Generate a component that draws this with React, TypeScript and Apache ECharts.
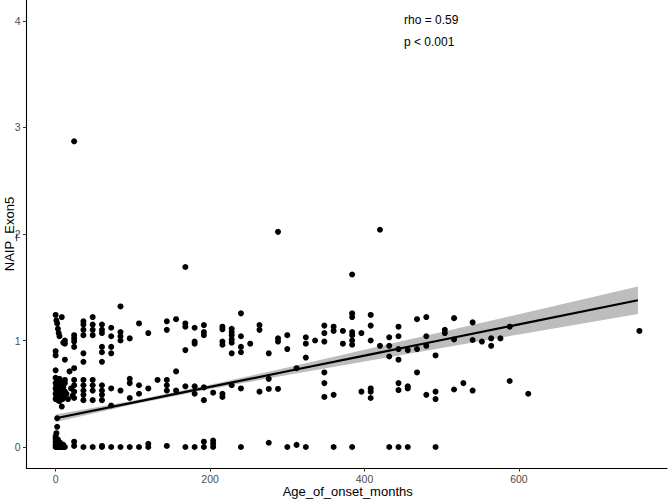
import React, { useEffect, useRef } from "react";
import * as echarts from "echarts";

const xTicks = [0, 200, 400, 600];
const yTicks = [0, 1, 2, 3, 4];
const xTitle = "Age_of_onset_months";
const yTitle = "NAIP_Exon5";

// [Age_of_onset_months, NAIP_Exon5]
const zeroBand: number[][] = [
  [0, 0], [0, 0.02], [0, 0.05], [0, 0.08], [0, 0.1], [1, 0.13], [1, 0], [1, 0.03], [1, 0.06],
  [2, 0], [2, 0.02], [2, 0.04], [3, 0], [3, 0.01], [3, 0.07], [4, 0], [4, 0.03], [5, 0],
  [5, 0.02], [6, 0], [6, 0.04], [7, 0], [7, 0.01], [8, 0], [9, 0], [10, 0], [10, 0.02],
  [11, 0], [12, 0], [2, 0.19], [2, 0.27],
  [24, 0.05], [24, 0.01], [36, 0], [48, 0], [60, 0], [60, 0.01], [72, 0], [84, 0], [96, 0],
  [108, 0], [120, 0], [120, 0.03], [144, 0.01], [168, 0], [180, 0], [192, 0], [192, 0.05],
  [204, 0], [204, 0.03], [204, 0.06], [240, 0], [276, 0.04], [300, 0], [312, 0.02], [324, 0],
  [360, 0], [384, 0], [432, 0], [444, 0], [456, 0], [492, 0],
];

const midBand: number[][] = [
  [0, 0.45], [0, 0.5], [0, 0.55], [0, 0.6], [0, 0.65], [0, 0.72], [1, 0.48], [1, 0.53],
  [1, 0.58], [2, 0.46], [2, 0.5], [2, 0.56], [2, 0.62], [3, 0.44], [3, 0.49], [3, 0.52],
  [3, 0.6], [4, 0.47], [4, 0.51], [4, 0.55], [5, 0.43], [5, 0.5], [5, 0.57], [5, 0.64],
  [6, 0.46], [6, 0.53], [7, 0.48], [7, 0.55], [7, 0.61], [8, 0.38], [8, 0.5], [9, 0.45],
  [9, 0.52], [10, 0.49], [10, 0.56], [11, 0.47], [12, 0.52], [12, 0.6], [12, 0.63],
  [14, 0.5], [16, 0.45], [18, 0.71], [20, 0.55], [22, 0.48], [24, 0.74], [24, 0.63],
  [24, 0.58], [24, 0.52], [24, 0.46],
  [36, 0.63], [36, 0.58], [36, 0.53], [36, 0.49], [36, 0.44],
  [48, 0.63], [48, 0.58], [48, 0.53], [48, 0.44],
  [60, 0.58], [60, 0.53], [60, 0.49], [60, 0.44],
  [72, 0.55], [72, 0.39], [84, 0.53], [96, 0.64], [96, 0.6], [96, 0.46],
  [108, 0.58], [108, 0.5], [120, 0.55], [132, 0.63], [144, 0.63], [144, 0.58], [144, 0.53],
  [156, 0.71], [156, 0.53], [168, 0.57], [180, 0.57], [180, 0.5], [192, 0.56], [192, 0.44],
  [204, 0.51], [216, 0.5], [216, 0.47], [228, 0.58], [240, 0.55], [264, 0.52], [276, 0.64],
  [276, 0.545], [288, 0.545], [312, 0.74], [348, 0.7], [348, 0.6], [348, 0.47], [360, 0.49],
  [396, 0.52], [408, 0.55], [408, 0.52], [408, 0.46], [444, 0.6], [444, 0.535], [456, 0.57],
  [456, 0.55], [468, 0.7], [480, 0.49], [492, 0.52], [492, 0.45], [516, 0.54], [528, 0.6],
  [540, 0.53], [588, 0.62], [612, 0.5],
];

const highBand: number[][] = [
  [0, 1.24], [1, 1.19], [2, 1.16], [3, 1.11], [4, 1.07], [5, 1.04], [0, 0.9], [0, 0.86],
  [12, 1.0], [12, 0.97], [12, 0.82], [8, 1.22], [10, 0.98],
  [24, 1.05], [24, 1.02], [24, 0.99], [24, 0.94],
  [36, 1.18], [36, 1.15], [36, 1.1], [36, 1.05], [36, 0.88], [36, 0.8],
  [48, 1.22], [48, 1.15], [48, 1.1], [48, 1.05],
  [60, 1.15], [60, 1.1], [60, 1.07], [60, 0.94], [60, 0.89], [60, 0.8],
  [72, 1.12], [72, 1.04], [72, 0.94], [72, 0.88],
  [84, 1.32], [84, 1.08], [84, 1.04], [84, 1.0], [96, 1.02], [108, 1.16], [120, 1.07],
  [144, 1.18], [144, 1.1], [156, 1.2], [168, 1.16], [168, 1.13], [168, 0.91],
  [180, 1.12], [180, 0.99], [180, 0.97], [192, 1.145], [192, 1.08], [192, 1.05],
  [216, 1.13], [216, 1.105], [216, 0.99], [216, 0.96],
  [228, 1.11], [228, 1.08], [228, 1.05], [228, 1.01], [228, 0.98], [228, 0.88],
  [240, 1.255], [240, 1.04], [240, 0.94], [240, 0.89], [252, 0.97], [264, 1.145], [264, 1.1],
  [276, 0.88], [288, 1.02], [288, 0.99], [300, 1.05], [300, 0.92],
  [324, 1.03], [324, 0.97], [324, 0.84], [336, 1.0], [348, 1.14], [348, 1.07], [348, 0.99],
  [360, 1.13], [360, 1.09], [372, 1.09], [372, 0.97],
  [384, 1.255], [384, 1.22], [384, 1.08], [384, 1.05], [384, 1.0], [384, 0.96],
  [396, 1.07], [408, 1.24], [408, 1.14], [408, 1.0], [420, 0.95],
  [432, 1.03], [432, 0.95], [432, 0.85], [444, 1.13], [444, 1.04], [444, 0.92], [444, 0.82],
  [456, 0.91], [468, 1.2], [468, 0.92], [480, 1.22], [480, 1.04], [480, 0.95], [492, 0.86],
  [504, 1.1], [504, 1.07], [516, 1.21], [516, 1.01], [540, 1.17], [540, 1.005], [552, 0.99],
  [564, 1.02], [564, 0.95], [576, 1.02], [588, 1.13], [756, 1.09],
];

const outliers: number[][] = [
  [24, 2.87], [168, 1.69], [288, 2.02], [384, 1.62], [420, 2.04],
];

// linear fit with 95% confidence band
const fitX = [0, 100, 200, 300, 400, 500, 600, 754];
const fitY = [0.27, 0.417, 0.564, 0.711, 0.858, 1.005, 1.152, 1.378];
const ciLow = [0.235, 0.399, 0.544, 0.676, 0.803, 0.93, 1.057, 1.248];
const ciHigh = [0.305, 0.435, 0.584, 0.746, 0.913, 1.08, 1.247, 1.508];

const statLines = ["rho = 0.59", "p < 0.001"];

const FONT = "'Liberation Sans', Arial, Helvetica, sans-serif";

export default function App() {
  const ref = useRef<HTMLDivElement>(null);
  useEffect(() => {
    const chart = echarts.init(ref.current!, null, { renderer: "svg" });
    const axisCommon = {
      type: "value" as const,
      splitLine: { show: false },
      axisLine: { show: true, onZero: false, lineStyle: { color: "#000", width: 1.1 } },
      axisTick: { show: true, length: 3.5, lineStyle: { color: "#333", width: 1 } },
    };
    chart.setOption({
      animation: false,
      backgroundColor: "#fff",
      grid: {
        left: 26.5,
        right: 2,
        top: 0,
        bottom: 31,
        containLabel: false,
        outerBoundsMode: "none",
      },
      xAxis: {
        ...axisCommon,
        min: -37.7,
        max: 791.7,
        axisTick: { ...axisCommon.axisTick, customValues: xTicks },
        axisLabel: {
          customValues: xTicks,
          color: "#4d4d4d",
          fontSize: 10.5,
          fontFamily: FONT,
          margin: 5,
        },
      },
      yAxis: {
        ...axisCommon,
        min: -0.197,
        max: 4.197,
        axisTick: { ...axisCommon.axisTick, customValues: yTicks },
        axisLabel: {
          customValues: yTicks,
          color: "#4d4d4d",
          fontSize: 10.5,
          fontFamily: FONT,
          margin: 6,
        },
      },
      graphic: [
        ...statLines.map((t, i) => ({
          type: "text",
          left: 404,
          top: 14 + i * 22,
          style: { text: t, fill: "#000", fontSize: 12, fontFamily: FONT },
          z: 100,
        })),
        {
          type: "text",
          x: 347.7,
          y: 491.5,
          style: {
            text: xTitle,
            fill: "#000",
            fontSize: 13,
            fontFamily: FONT,
            align: "center",
            verticalAlign: "middle",
          },
          z: 100,
        },
        {
          type: "text",
          x: 9.5,
          y: 234,
          rotation: Math.PI / 2,
          style: {
            text: yTitle,
            fill: "#000",
            fontSize: 13,
            fontFamily: FONT,
            align: "center",
            verticalAlign: "middle",
          },
          z: 100,
        },
      ],
      series: [
        {
          type: "custom",
          data: [[0, 0]],
          silent: true,
          z: 1,
          renderItem: (_params: any, api: any) => {
            const upper = fitX.map((x, i) => api.coord([x, ciHigh[i]]));
            const lower = fitX.map((x, i) => api.coord([x, ciLow[i]])).reverse();
            return {
              type: "polygon",
              shape: { points: [...upper, ...lower] },
              style: { fill: "#bdbdbd" },
            };
          },
        },
        {
          type: "scatter",
          data: [...zeroBand, ...midBand, ...highBand, ...outliers],
          symbolSize: 6,
          itemStyle: { color: "#000", opacity: 1 },
          z: 2,
        },
        {
          type: "line",
          data: fitX.map((x, i) => [x, fitY[i]]),
          symbol: "none",
          lineStyle: { color: "#000", width: 2.2 },
          z: 3,
        },
      ],
    });
    return () => chart.dispose();
  }, []);
  return (
    <div
      ref={ref}
      style={{ position: "fixed", left: 0, top: 0, width: 669, height: 499 }}
    />
  );
}
